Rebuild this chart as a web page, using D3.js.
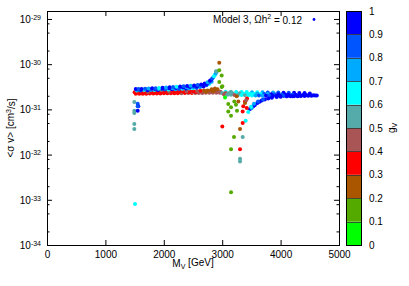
<!DOCTYPE html>
<html>
<head>
<meta charset="utf-8">
<script src="https://cdn.jsdelivr.net/npm/d3@7"></script>
<style>
  body { margin: 0; background: #fff; }
  svg { font-family: "Liberation Sans", Arial, sans-serif; }
</style>
</head>
<body>
<div id="chart"></div>
<script>
// [M_V (GeV), <sigma v> (cm^3/s), g_V]
const bandRowD = [
  [1520, 2.22e-31, 0.35], [1580, 2.22e-31, 0.35], [1640, 2.23e-31, 0.35], [1700, 2.23e-31, 0.35],
  [1760, 2.24e-31, 0.35], [1820, 2.24e-31, 0.35], [1880, 2.25e-31, 0.35], [1940, 2.25e-31, 0.35],
  [2000, 2.26e-31, 0.35], [2060, 2.26e-31, 0.35], [2120, 2.27e-31, 0.35], [2180, 2.27e-31, 0.35],
  [2240, 2.28e-31, 0.35], [2300, 2.28e-31, 0.45], [2360, 2.29e-31, 0.35], [2420, 2.29e-31, 0.45],
  [2480, 2.30e-31, 0.35], [2540, 2.30e-31, 0.45], [2600, 2.31e-31, 0.45], [2660, 2.31e-31, 0.45],
  [2720, 2.32e-31, 0.45], [2780, 2.32e-31, 0.45], [2840, 2.33e-31, 0.45], [2900, 2.33e-31, 0.45],
  [2960, 2.33e-31, 0.45]
];
const bandRowCD = [
  [1530, 2.30e-31, 0.35], [1590, 2.31e-31, 0.35], [1650, 2.31e-31, 0.35], [1710, 2.32e-31, 0.35],
  [1770, 2.33e-31, 0.35], [1830, 2.33e-31, 0.35], [1890, 2.34e-31, 0.35], [1950, 2.35e-31, 0.35],
  [2010, 2.35e-31, 0.35], [2070, 2.36e-31, 0.35], [2130, 2.37e-31, 0.35], [2190, 2.37e-31, 0.35],
  [2250, 2.38e-31, 0.35], [2310, 2.39e-31, 0.45], [2370, 2.39e-31, 0.35], [2430, 2.40e-31, 0.35],
  [2490, 2.41e-31, 0.45], [2550, 2.42e-31, 0.35], [2610, 2.43e-31, 0.45], [2670, 2.44e-31, 0.45],
  [2730, 2.46e-31, 0.25], [2790, 2.48e-31, 0.45], [2850, 2.52e-31, 0.25], [2910, 2.55e-31, 0.45],
  [2970, 2.45e-31, 0.45]
];
const bandRowC = [
  [1500, 2.38e-31, 0.35], [1550, 2.39e-31, 0.35], [1610, 2.40e-31, 0.35], [1670, 2.40e-31, 0.35],
  [1730, 2.41e-31, 0.45], [1790, 2.42e-31, 0.35], [1850, 2.42e-31, 0.35], [1910, 2.43e-31, 0.35],
  [1970, 2.44e-31, 0.35], [2030, 2.45e-31, 0.35], [2090, 2.46e-31, 0.45], [2150, 2.47e-31, 0.35],
  [2210, 2.48e-31, 0.35], [2270, 2.49e-31, 0.35], [2330, 2.50e-31, 0.35], [2390, 2.51e-31, 0.45],
  [2450, 2.52e-31, 0.35], [2510, 2.53e-31, 0.35], [2570, 2.55e-31, 0.45], [2630, 2.57e-31, 0.35],
  [2690, 2.60e-31, 0.25], [2750, 2.62e-31, 0.25], [2810, 2.66e-31, 0.25], [2870, 2.72e-31, 0.25],
  [2920, 2.80e-31, 0.25]
];
const bandRowB = [
  [1540, 2.62e-31, 0.65], [1600, 2.63e-31, 0.85], [1660, 2.64e-31, 0.55], [1720, 2.66e-31, 0.95],
  [1780, 2.67e-31, 0.75], [1840, 2.69e-31, 0.65], [1900, 2.70e-31, 0.9], [1960, 2.72e-31, 0.55],
  [2020, 2.74e-31, 0.8], [2080, 2.76e-31, 0.65], [2140, 2.78e-31, 0.95], [2200, 2.80e-31, 0.75],
  [2260, 2.82e-31, 0.85], [2320, 2.85e-31, 0.65], [2380, 2.88e-31, 0.95], [2440, 2.91e-31, 0.75],
  [2500, 2.95e-31, 0.65], [2560, 3.00e-31, 0.85], [2620, 3.08e-31, 0.75], [2680, 3.20e-31, 0.95],
  [2730, 3.40e-31, 0.85], [2780, 3.70e-31, 0.65], [2820, 4.10e-31, 0.75]
];
const bandRowAB = [
  [1550, 2.72e-31, 0.85], [1610, 2.73e-31, 0.95], [1670, 2.75e-31, 0.65], [1730, 2.77e-31, 0.9],
  [1790, 2.79e-31, 0.8], [1850, 2.82e-31, 0.95], [1910, 2.84e-31, 0.75], [1970, 2.86e-31, 0.9],
  [2030, 2.89e-31, 0.85], [2090, 2.92e-31, 0.95], [2150, 2.95e-31, 0.7], [2210, 2.98e-31, 0.9],
  [2270, 3.01e-31, 0.85], [2330, 3.05e-31, 0.95], [2390, 3.08e-31, 0.75], [2450, 3.12e-31, 0.9],
  [2510, 3.17e-31, 0.85], [2570, 3.22e-31, 0.95], [2630, 3.32e-31, 0.8], [2690, 3.48e-31, 0.9],
  [2740, 3.70e-31, 0.95], [2770, 3.95e-31, 0.85], [2810, 4.45e-31, 0.95], [2845, 5.10e-31, 0.75],
  [2875, 5.80e-31, 0.65]
];
const bandRowA = [
  [1520, 2.81e-31, 0.9], [1570, 2.82e-31, 0.8], [1620, 2.83e-31, 0.95], [1680, 2.86e-31, 0.85],
  [1740, 2.88e-31, 0.7], [1800, 2.92e-31, 0.95], [1860, 2.95e-31, 0.85], [1920, 2.98e-31, 0.65],
  [1980, 3.01e-31, 0.9], [2040, 3.05e-31, 0.75], [2100, 3.08e-31, 0.95], [2160, 3.12e-31, 0.85],
  [2220, 3.16e-31, 0.65], [2280, 3.21e-31, 0.9], [2340, 3.24e-31, 0.8], [2400, 3.27e-31, 0.95],
  [2460, 3.32e-31, 0.7], [2520, 3.38e-31, 0.9], [2580, 3.44e-31, 0.85], [2640, 3.55e-31, 0.95],
  [2700, 3.75e-31, 0.9], [2750, 4.00e-31, 0.75], [2790, 4.30e-31, 0.95], [2830, 4.80e-31, 0.85],
  [2860, 5.40e-31, 0.65], [2890, 6.20e-31, 0.7], [2910, 6.90e-31, 0.55]
];
const bandRowG = [
  [3060, 2.45e-31, 0.65], [3150, 2.44e-31, 0.55], [3240, 2.43e-31, 0.65], [3330, 2.42e-31, 0.65],
  [3420, 2.41e-31, 0.65], [3510, 2.40e-31, 0.75], [3600, 2.39e-31, 0.65], [3690, 2.38e-31, 0.75],
  [3780, 2.37e-31, 0.85], [3870, 2.36e-31, 0.75], [3960, 2.35e-31, 0.85], [4050, 2.34e-31, 0.95],
  [4140, 2.33e-31, 0.85], [4230, 2.32e-31, 0.95], [4320, 2.31e-31, 0.95], [4410, 2.29e-31, 0.95],
  [4500, 2.25e-31, 0.95]
];
const bandRowE = [
  [3000, 2.30e-31, 0.55], [3060, 2.30e-31, 0.45], [3120, 2.29e-31, 0.55], [3180, 2.28e-31, 0.55],
  [3240, 2.27e-31, 0.65], [3300, 2.26e-31, 0.55], [3360, 2.25e-31, 0.65], [3420, 2.24e-31, 0.65],
  [3480, 2.23e-31, 0.65], [3540, 2.22e-31, 0.65], [3600, 2.21e-31, 0.75], [3660, 2.20e-31, 0.65],
  [3720, 2.19e-31, 0.85], [3780, 2.18e-31, 0.75], [3840, 2.17e-31, 0.95], [3900, 2.16e-31, 0.85],
  [3960, 2.15e-31, 0.95], [4020, 2.14e-31, 0.85], [4080, 2.13e-31, 0.95], [4140, 2.12e-31, 0.95],
  [4200, 2.11e-31, 0.85], [4260, 2.10e-31, 0.95], [4320, 2.09e-31, 0.95], [4380, 2.08e-31, 0.95],
  [4440, 2.07e-31, 0.95], [4500, 2.06e-31, 0.95], [4560, 2.05e-31, 0.95], [4620, 2.04e-31, 0.95]
];
const bandRowF = [
  [3030, 2.12e-31, 0.45], [3090, 2.11e-31, 0.55], [3150, 2.10e-31, 0.55], [3210, 2.09e-31, 0.45],
  [3270, 2.08e-31, 0.55], [3330, 2.07e-31, 0.65], [3390, 2.06e-31, 0.55], [3450, 2.05e-31, 0.65],
  [3510, 2.04e-31, 0.65], [3570, 2.03e-31, 0.75], [3630, 2.02e-31, 0.85], [3690, 2.01e-31, 0.75],
  [3750, 2.00e-31, 0.95], [3810, 1.99e-31, 0.85], [3870, 1.98e-31, 0.95], [3930, 1.98e-31, 0.95],
  [3990, 1.97e-31, 0.95], [4050, 1.97e-31, 0.85], [4110, 1.96e-31, 0.95], [4170, 1.96e-31, 0.95],
  [4230, 1.96e-31, 0.95], [4290, 1.96e-31, 0.95], [4350, 1.97e-31, 0.95], [4410, 1.98e-31, 0.95],
  [4470, 1.99e-31, 0.95], [4530, 2.00e-31, 0.95], [4590, 2.02e-31, 0.95]
];
const lowerBranch = [
  [3476, 1.02e-31, 0.95], [3500, 1.08e-31, 0.9], [3532, 1.17e-31, 0.95], [3560, 1.25e-31, 0.9],
  [3601, 1.39e-31, 0.95], [3640, 1.48e-31, 0.95], [3676, 1.58e-31, 0.95], [3730, 1.65e-31, 0.9],
  [3789, 1.73e-31, 0.95], [3850, 1.80e-31, 0.95], [3933, 1.88e-31, 0.95], [4000, 1.90e-31, 0.9],
  [4104, 1.94e-31, 0.95], [4200, 1.96e-31, 0.95], [4332, 2.00e-31, 0.95],
  [3505, 1.07e-31, 0.75], [3544, 1.34e-31, 0.75], [3613, 1.50e-31, 0.85], [3699, 1.65e-31, 0.85],
  [3402, 5.61e-32, 0.65], [3447, 8.75e-32, 0.65], [3493, 1.15e-31, 0.65]
];
const scatterPoints = [
  // low-mass edge
  [1495, 1.46e-31, 0.55], [1553, 1.34e-31, 0.85], [1563, 1.17e-31, 0.9], [1553, 1.17e-31, 0.85],
  [1495, 9.35e-32, 0.55], [1553, 9.35e-32, 0.95], [1495, 8.3e-32, 0.55], [1495, 4.75e-32, 0.55],
  [1495, 3.67e-32, 0.55], [1507, 8.1e-34, 0.65],
  // resonance region
  [2950, 1.07e-30, 0.25], [2894, 6.96e-31, 0.55], [2950, 7.32e-31, 0.15], [2991, 5.59e-31, 0.15],
  [2950, 4.05e-31, 0.15], [2991, 3.14e-31, 0.15], [3002, 3.24e-31, 0.15], [2876, 2.9e-31, 0.25],
  [2820, 2.8e-31, 0.25], [3048, 1.82e-31, 0.05], [3104, 1.32e-31, 0.15], [3207, 1.50e-31, 0.15],
  [3151, 1.11e-31, 0.15], [3236, 1.27e-31, 0.15], [3253, 9.35e-32, 0.15], [3151, 7.25e-32, 0.15],
  [3202, 2.44e-32, 0.15], [3151, 1.32e-32, 0.15], [3151, 1.47e-33, 0.15], [3104, 9.03e-32, 0.15],
  [3002, 4.2e-32, 0.35], [3305, 1.32e-32, 0.35], [3351, 4.99e-32, 0.35], [3351, 9.03e-32, 0.35],
  [3361, 1.17e-31, 0.35], [3390, 1.50e-31, 0.35], [3425, 1.73e-31, 0.35], [3420, 1.07e-31, 0.35],
  [3305, 3.67e-32, 0.25], [3276, 1.50e-31, 0.25], [3248, 1.94e-31, 0.25], [3390, 1.39e-31, 0.25],
  [3351, 2.44e-32, 0.55], [3305, 8.07e-33, 0.55], [3305, 7.03e-33, 0.55], [3410, 1.60e-31, 0.45]
];

const gTicks = [0, 0.1, 0.2, 0.3, 0.4, 0.5, 0.6, 0.7, 0.8, 0.9, 1];
const gPalette = ['#00ff00', '#55aa00', '#aa5500', '#ff0000', '#aa5555', '#55aaaa', '#00ffff', '#00aaff', '#0055ff', '#0000ff'];
const xTicks = [0, 1000, 2000, 3000, 4000, 5000];
const yMajorTicks = [1e-34, 1e-33, 1e-32, 1e-31, 1e-30, 1e-29];
const yMinorTicks = [2e-34, 5e-34, 8e-34, 2e-33, 5e-33, 8e-33, 2e-32, 5e-32, 8e-32, 2e-31, 5e-31, 8e-31, 2e-30, 5e-30, 8e-30];

const width = 409, height = 286;
const plot = { left: 47, right: 339, top: 11, bottom: 245 };
const cbar = { x: 346, w: 15 };

const svg = d3.select('#chart').append('svg')
  .attr('width', width)
  .attr('height', height);

const x = d3.scaleLinear().domain([0, 5000]).range([plot.left, plot.right]);
const y = d3.scaleLog().domain([1e-34, 1.5e-29]).range([plot.bottom, plot.top]);
const color = d3.scaleQuantize().domain([0, 1]).range(gPalette);

// points, drawn in file order like gnuplot
const pts = svg.append('g')
const allRows = [bandRowD, bandRowCD, bandRowC, bandRowB, bandRowAB, bandRowA, bandRowG, bandRowE, bandRowF, lowerBranch, scatterPoints];
allRows.forEach(rows => {
  pts.selectAll(null)
    .data(rows)
    .enter()
    .append('circle')
    .attr('cx', d => x(d[0]))
    .attr('cy', d => y(d[1]))
    .attr('r', 2)
    .attr('fill', d => color(Math.min(d[2], 0.999)));
});

// axes (ticks point inward, mirrored on all sides)
function styleAxis(g) {
  g.select('.domain').remove();
  g.selectAll('.tick line').attr('stroke', '#000');
  g.selectAll('text').attr('fill', '#000').style('font-size', '10px');
}

svg.append('g')
  .attr('transform', `translate(0,${plot.bottom})`)
  .call(d3.axisBottom(x).tickValues(xTicks).tickSize(-5).tickPadding(6).tickFormat(d3.format('d')))
  .call(styleAxis);
svg.append('g')
  .attr('transform', `translate(0,${plot.top})`)
  .call(d3.axisTop(x).tickValues(xTicks).tickSize(-5).tickFormat(''))
  .call(styleAxis);

const yAxisLeft = svg.append('g')
  .attr('transform', `translate(${plot.left},0)`)
  .call(d3.axisLeft(y).tickValues(yMajorTicks).tickSize(-5).tickPadding(6).tickFormat(''))
  .call(styleAxis);
yAxisLeft.selectAll('.tick text').each(function (d) {
  const t = d3.select(this).text('').attr('dy', '0.35em');
  t.append('tspan').text('10');
  t.append('tspan').attr('dy', '-0.45em').style('font-size', '7px').text(Math.round(Math.log10(d)));
});
svg.append('g')
  .attr('transform', `translate(${plot.left},0)`)
  .call(d3.axisLeft(y).tickValues(yMinorTicks).tickSize(-2.5).tickFormat(''))
  .call(styleAxis);
svg.append('g')
  .attr('transform', `translate(${plot.right},0)`)
  .call(d3.axisRight(y).tickValues(yMajorTicks).tickSize(-5).tickFormat(''))
  .call(styleAxis);
svg.append('g')
  .attr('transform', `translate(${plot.right},0)`)
  .call(d3.axisRight(y).tickValues(yMinorTicks).tickSize(-2.5).tickFormat(''))
  .call(styleAxis);

svg.append('rect')
  .attr('x', plot.left + 0.5)
  .attr('y', plot.top + 0.5)
  .attr('width', plot.right - plot.left)
  .attr('height', plot.bottom - plot.top)
  .attr('fill', 'none')
  .attr('stroke', '#000');

// axis titles
const xt = svg.append('text')
  .attr('x', (plot.left + plot.right) / 2)
  .attr('y', 267)
  .attr('text-anchor', 'middle')
  .style('font-size', '10px');
xt.append('tspan').text('M');
xt.append('tspan').attr('dy', '0.3em').style('font-size', '7px').text('V');
xt.append('tspan').attr('dy', '-0.3em').text(' [GeV]');

const yt = svg.append('text')
  .attr('transform', `translate(14,${(plot.top + plot.bottom) / 2}) rotate(-90)`)
  .attr('text-anchor', 'middle')
  .style('font-size', '10px');
yt.append('tspan').text('<σ v> [cm');
yt.append('tspan').attr('dy', '-0.45em').style('font-size', '7px').text('3');
yt.append('tspan').attr('dy', '0.45em').text('/s]');

// key
const key = svg.append('text')
  .attr('x', 302)
  .attr('y', 22.5)
  .attr('text-anchor', 'end')
  .style('font-size', '10px');
key.append('tspan').text('Model 3, Ωh');
key.append('tspan').attr('dy', '-0.45em').style('font-size', '7px').text('2');
key.append('tspan').attr('dy', '0.45em').text(' = 0.12');
svg.append('circle')
  .attr('cx', 314)
  .attr('cy', 19.5)
  .attr('r', 1.4)
  .attr('fill', color(0.95));

// colour box
const cy = d3.scaleLinear().domain([0, 1]).range([plot.bottom, plot.top]);
const cb = svg.append('g');
cb.selectAll('rect.cell')
  .data(gPalette)
  .enter()
  .append('rect')
  .attr('class', 'cell')
  .attr('x', cbar.x)
  .attr('y', (d, i) => cy(gTicks[i + 1]))
  .attr('width', cbar.w)
  .attr('height', (d, i) => cy(gTicks[i]) - cy(gTicks[i + 1]))
  .attr('fill', d => d);
cb.selectAll('line.sep')
  .data(gTicks.slice(1, -1))
  .enter()
  .append('line')
  .attr('class', 'sep')
  .attr('x1', cbar.x)
  .attr('x2', cbar.x + cbar.w)
  .attr('y1', d => Math.round(cy(d)) + 0.5)
  .attr('y2', d => Math.round(cy(d)) + 0.5)
  .attr('stroke', '#333')
  .attr('stroke-width', 0.8);
cb.append('rect')
  .attr('x', cbar.x + 0.5)
  .attr('y', plot.top + 0.5)
  .attr('width', cbar.w)
  .attr('height', plot.bottom - plot.top)
  .attr('fill', 'none')
  .attr('stroke', '#000');
cb.selectAll('text')
  .data(gTicks)
  .enter()
  .append('text')
  .attr('x', 369)
  .attr('y', d => cy(d))
  .attr('dy', '0.35em')
  .style('font-size', '10px')
  .text(d => d3.format('~g')(d));

const gl = svg.append('text')
  .attr('transform', `translate(395,${(plot.top + plot.bottom) / 2}) rotate(-90)`)
  .attr('text-anchor', 'middle')
  .style('font-size', '10px');
gl.append('tspan').text('g');
gl.append('tspan').attr('dy', '0.3em').style('font-size', '7px').text('V');
</script>
</body>
</html>
